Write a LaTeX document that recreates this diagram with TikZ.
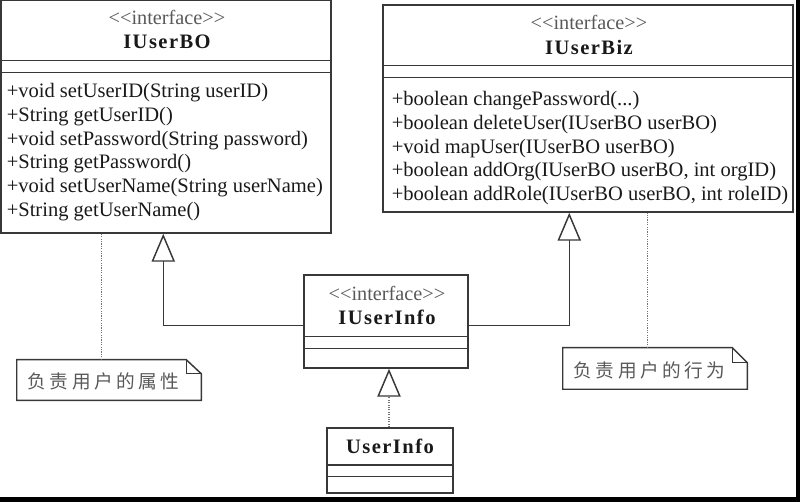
\documentclass[tikz,border=0pt]{standalone}
\usepackage{fontspec}
\setmainfont{Liberation Serif}
\newfontfamily\stfont[Ligatures=ResetAll]{Liberation Serif}
\newfontfamily\cjk{Noto Sans CJK SC}
\usetikzlibrary{arrows.meta,calc}
\definecolor{linec}{gray}{0.22}
\definecolor{txtc}{gray}{0.1}
\definecolor{dotc}{gray}{0.45}
\newcommand\zsp{\hspace{2.6pt}}
\newcommand\stereotxt{\textless\kern0pt\textless\kern0pt interface\kern0pt\textgreater\kern0pt\textgreater}
\tikzset{
  cls/.style={draw=linec, line width=1.1pt, inner sep=0pt, rectangle},
  sepline/.style={draw=linec, line width=1.1pt},
  stereo/.style={font=\stfont\fontsize{15.2}{18}\selectfont, text=black!65, inner sep=0pt, anchor=base},
  ctitle/.style={font=\fontsize{15.4}{18}\selectfont\bfseries\addfontfeatures{LetterSpace=7}, text=txtc, inner sep=0pt, anchor=base},
  meth/.style={font=\fontsize{15.4}{18}\selectfont, text=txtc, inner sep=0pt, anchor=base west},
  notebox/.style={inner sep=0pt, rectangle},
  noteline/.style={draw=linec, line width=1.1pt, line join=miter},
  notetext/.style={font=\cjk\fontsize{14}{16}\selectfont, text=black!65, inner sep=0pt},
  gen/.style={draw=linec, line width=1.1pt, -{Triangle[open, length=21pt, width=17.5pt, fill=white]}},
  realz/.style={draw=dotc, line width=0.8pt, densely dotted, -{Triangle[open, length=21pt, width=17.5pt, fill=white, color=linec, line width=1.1pt]}},
  anchorline/.style={draw=dotc, line width=0.8pt, densely dotted}
}
\begin{document}
\begin{tikzpicture}[x=0.75pt,y=-0.75pt]
\useasboundingbox (0,0) rectangle (800,502);
% frame strips
\fill[black] (796,0) rectangle (800,502);
\fill[black] (0,496.5) rectangle (800,502);

% IUserBO
\node[cls, minimum width=247.5pt, minimum height=174.4pt] (bo) at (166,116.75) {};
\draw[sepline] ($(bo.north west)+(0,60.5)$) -- ($(bo.north east)+(0,60.5)$);
\draw[sepline] ($(bo.north west)+(0,72.5)$) -- ($(bo.north east)+(0,72.5)$);
\node[stereo] (bos) at (167,24.5) {\stereotxt};
\node[ctitle] (bot) at (167,49) {IUserBO};
\node[meth] (bom0) at (6.5,97.5) {+void setUserID(String userID)};
\node[meth] (bom1) at (6.5,121.3) {+String getUserID()};
\node[meth] (bom2) at (6.5,145.1) {+void setPassword(String password)};
\node[meth] (bom3) at (6.5,168.9) {+String getPassword()};
\node[meth] (bom4) at (6.5,192.7) {+void setUserName(String userName)};
\node[meth] (bom5) at (6.5,216.5) {+String getUserName()};

% IUserBiz
\node[cls, minimum width=307.5pt, minimum height=155.25pt] (biz) at (588,108.5) {};
\draw[sepline] ($(biz.north west)+(0,61)$) -- ($(biz.north east)+(0,61)$);
\draw[sepline] ($(biz.north west)+(0,73)$) -- ($(biz.north east)+(0,73)$);
\node[stereo] (bizs) at (589,29.5) {\stereotxt};
\node[ctitle] (bizt) at (589,55) {IUserBiz};
\node[meth] (bizm0) at (391.5,106) {+boolean changePassword(...)};
\node[meth] (bizm1) at (391.5,129.6) {+boolean deleteUser(IUserBO userBO)};
\node[meth] (bizm2) at (391.5,153.2) {+void mapUser(IUserBO userBO)};
\node[meth] (bizm3) at (391.5,176.8) {+boolean addOrg(IUserBO userBO, int orgID)};
\node[meth] (bizm4) at (391.5,200.4) {+boolean addRole(IUserBO userBO, int roleID)};

% IUserInfo
\node[cls, minimum width=123pt, minimum height=69.75pt] (iinfo) at (386,321.5) {};
\draw[sepline] ($(iinfo.north west)+(0,62)$) -- ($(iinfo.north east)+(0,62)$);
\draw[sepline] ($(iinfo.north west)+(0,74)$) -- ($(iinfo.north east)+(0,74)$);
\node[stereo] (iinfos) at (387,300.5) {\stereotxt};
\node[ctitle] (iinfot) at (387,325) {IUserInfo};

% UserInfo
\node[cls, minimum width=94.5pt, minimum height=48.75pt] (uinfo) at (390,460.5) {};
\draw[sepline] ($(uinfo.north west)+(0,37.5)$) -- ($(uinfo.north east)+(0,37.5)$);
\draw[sepline] ($(uinfo.north west)+(0,49)$) -- ($(uinfo.north east)+(0,49)$);
\node[ctitle] (uinfot) at (390,453) {UserInfo};

% notes
\node[notebox, minimum width=138pt, minimum height=30pt] (n1) at (109,380) {};
\draw[noteline] (n1.north west) -- ($(n1.north east)+(-15,0)$) -- ($(n1.north east)+(0,14)$) -- (n1.south east) -- (n1.south west) -- cycle;
\draw[noteline] ($(n1.north east)+(-15,0)$) |- ($(n1.north east)+(0,14)$);
\node[notetext] (n1t) at (103.5,381.5) {负\zsp 责\zsp 用\zsp 户\zsp 的\zsp 属\zsp 性};

\node[notebox, minimum width=138pt, minimum height=30.75pt] (n2) at (655,368.5) {};
\draw[noteline] (n2.north west) -- ($(n2.north east)+(-15,0)$) -- ($(n2.north east)+(0,15)$) -- (n2.south east) -- (n2.south west) -- cycle;
\draw[noteline] ($(n2.north east)+(-15,0)$) |- ($(n2.north east)+(0,15)$);
\node[notetext] (n2t) at (649.5,370.5) {负\zsp 责\zsp 用\zsp 户\zsp 的\zsp 行\zsp 为};

% note anchors
\coordinate (n1a) at ($(n1.north west)+(85,0)$);
\coordinate (n2a) at ($(n2.north west)+(85,0)$);
\draw[anchorline] (n1a) -- (n1a |- bo.south);
\draw[anchorline] (n2a) -- (n2a |- biz.south);

% generalizations
\draw[gen] ($(iinfo.north west)+(0,51)$) -| ($(bo.south west)+(163,0)$);
\draw[gen] ($(iinfo.north east)+(0,51)$) -| ($(biz.south west)+(187,0)$);
\draw[realz] ($(uinfo.north)+(-1,0)$) -- ($(iinfo.south)+(3,0)$);
\end{tikzpicture}
\end{document}
